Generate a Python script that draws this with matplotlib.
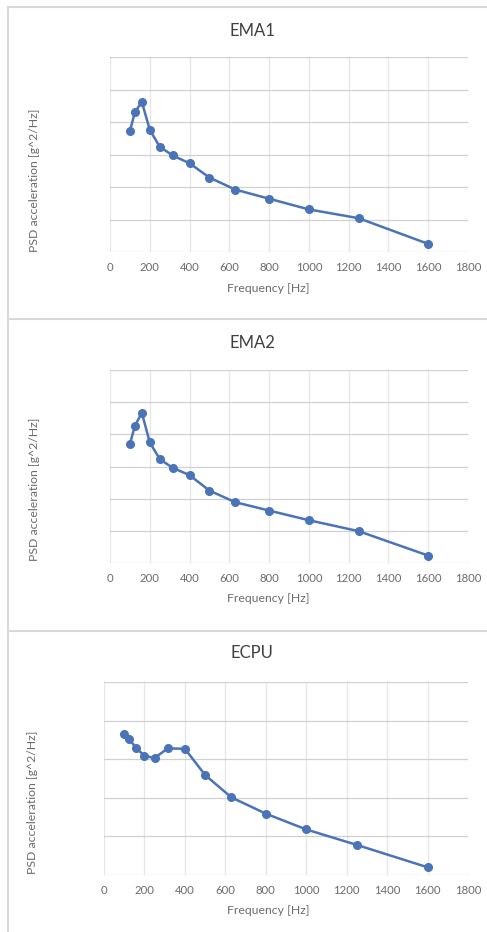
import matplotlib
matplotlib.use("Agg")
import matplotlib.pyplot as plt
from matplotlib.lines import Line2D

plt.rcParams['font.family'] = ['Lato', 'DejaVu Sans']

# third-octave frequencies [Hz]
freq = [100, 125, 160, 200, 250, 315, 400, 500, 630, 800, 1000, 1250, 1600]

# PSD values (grid units, no y tick labels in source)
ema1 = [3.72, 4.30, 4.62, 3.76, 3.24, 2.97, 2.73, 2.29, 1.92, 1.64, 1.31, 1.04, 0.25]
ema2 = [3.69, 4.26, 4.67, 3.75, 3.23, 2.96, 2.73, 2.25, 1.89, 1.63, 1.33, 0.99, 0.23]
ecpu = [3.66, 3.52, 3.28, 3.09, 3.03, 3.28, 3.27, 2.59, 2.01, 1.59, 1.18, 0.78, 0.20]

titles = ["EMA1", "EMA2", "ECPU"]
series = [ema1, ema2, ecpu]
ytops = [6, 6, 5]
xticks = list(range(0, 1801, 200))

W, H = 487, 932
fig = plt.figure(figsize=(W / 100, H / 100), dpi=100)

# pixel boxes: left, top, right, bottom
boxes = [(110, 57, 468, 252), (110, 370, 468, 563), (104, 682, 468, 875)]
title_y = [31, 343, 653]
xlab_y = [288, 599, 911]
ylab_pos = [(35, 180), (35, 489), (33, 802)]

line_col = '#4a73b8'
txt_col = '#6b6b6b'

for i in range(3):
    l, t, r, b = boxes[i]
    ax = fig.add_axes([l / W, 1 - b / H, (r - l) / W, (b - t) / H])
    ax.plot(freq, series[i], color=line_col, lw=1.8, marker='o', ms=5.5,
            markeredgecolor=line_col, zorder=3)
    ax.set_xlim(0, 1800)
    ax.set_ylim(0, ytops[i])
    ax.set_xticks(xticks)
    ax.set_yticks(range(ytops[i] + 1))
    ax.set_yticklabels([])
    ax.tick_params(length=0, labelsize=8.2, labelcolor=txt_col, pad=7)
    ax.grid(axis='y', color='#d0d0d0', lw=0.9)
    ax.grid(axis='x', color='#e6e6e6', lw=0.9)
    ax.set_axisbelow(True)
    for s in ax.spines.values():
        s.set_visible(False)
    fig.text(252 / W, 1 - title_y[i] / H, titles[i], ha='center', va='center',
             fontsize=12, color='#404040')
    fig.text(268 / W, 1 - xlab_y[i] / H, "Frequency [Hz]", ha='center', va='center',
             fontsize=8.8, color=txt_col)
    fig.text(ylab_pos[i][0] / W, 1 - ylab_pos[i][1] / H, "PSD acceleration [g^2/Hz]",
             ha='center', va='center', rotation=90, fontsize=8.8, color=txt_col)

# panel frames
frame = dict(color='#d9d9d9', lw=1.5, transform=fig.transFigure)
fig.add_artist(Line2D([8 / W, 8 / W], [1 - 7 / H, 0], **frame))
for y in [7, 319, 631]:
    fig.add_artist(Line2D([8 / W, 1], [1 - y / H, 1 - y / H], **frame))

fig.savefig("out.png", dpi=100, facecolor='white')
